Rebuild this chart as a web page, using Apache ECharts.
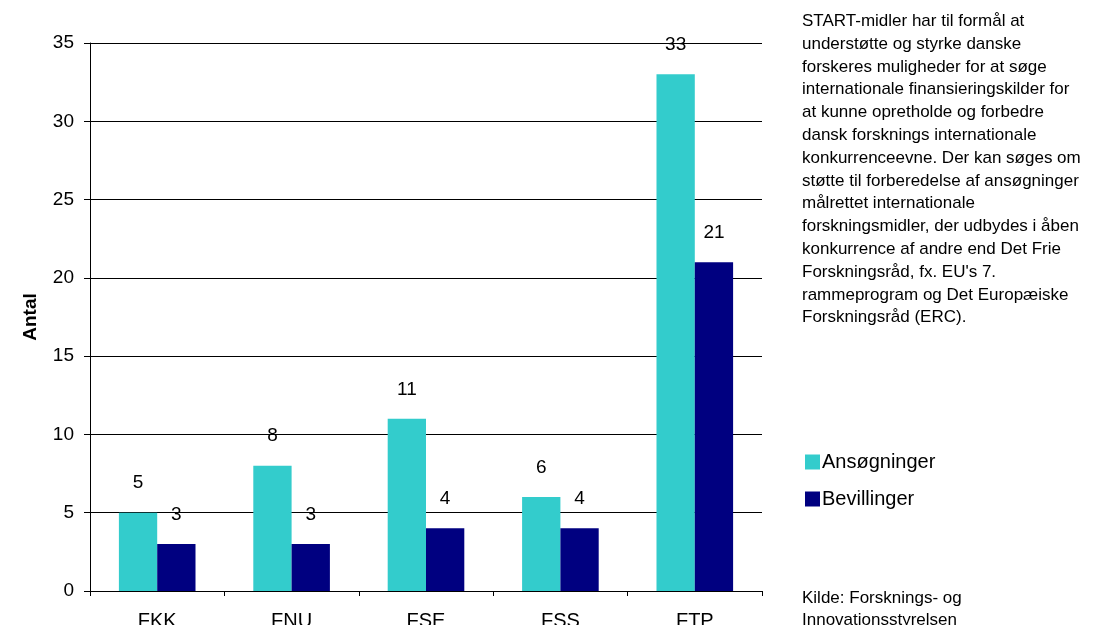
<!DOCTYPE html>
<html>
<head>
<meta charset="utf-8">
<script src="https://cdn.jsdelivr.net/npm/echarts@6/dist/echarts.min.js"></script>
<style>
  body { margin: 0; background: #fff; }
  #chart { width: 1107px; height: 625px; }
</style>
</head>
<body>
<div id="chart"></div>
<script>
// data
var categories = ["FKK", "FNU", "FSE", "FSS", "FTP"];
var ansoegninger = [5, 8, 11, 6, 33];
var bevillinger = [3, 3, 4, 4, 21];
var seriesNames = ["Ansøgninger", "Bevillinger"];

var noteText = "START-midler har til formål at\nunderstøtte og styrke danske\nforskeres muligheder for at søge\ninternationale finansieringskilder for\nat kunne opretholde og forbedre\ndansk forsknings internationale\nkonkurrenceevne. Der kan søges om\nstøtte til forberedelse af ansøgninger\nmålrettet internationale\nforskningsmidler, der udbydes i åben\nkonkurrence af andre end Det Frie\nForskningsråd, fx. EU's 7.\nrammeprogram og Det Europæiske\nForskningsråd (ERC).";
var sourceText = "Kilde: Forsknings- og\nInnovationsstyrelsen";

var font = "Liberation Sans, Arial, sans-serif";
var myChart = echarts.init(document.getElementById("chart"));

var labelStyle = {
  show: true,
  position: "top",
  distance: 20,
  color: "#000",
  fontSize: 19,
  fontFamily: font
};

myChart.setOption({
  animation: false,
  backgroundColor: "#fff",
  grid: { left: 90, right: 345, top: 43, bottom: 34, outerBoundsMode: "none" },
  legend: {
    orient: "vertical",
    left: 800,
    top: 447,
    itemWidth: 15,
    itemHeight: 15,
    itemGap: 17,
    icon: "rect",
    textStyle: { fontSize: 20, color: "#000", fontFamily: font, padding: [0, 0, 0, -3] },
    data: seriesNames
  },
  xAxis: {
    type: "category",
    data: categories,
    axisLine: { lineStyle: { color: "#000", width: 1 } },
    axisTick: { show: true, length: 5, lineStyle: { color: "#000" } },
    axisLabel: { color: "#000", fontSize: 20, fontFamily: font, margin: 20 }
  },
  yAxis: {
    type: "value",
    min: 0,
    max: 35,
    interval: 5,
    name: "Antal",
    nameLocation: "middle",
    nameGap: 50,
    nameRotate: 90,
    nameTextStyle: { fontSize: 19, fontWeight: "bold", color: "#000", fontFamily: font },
    axisLine: { show: true, lineStyle: { color: "#000", width: 1 } },
    axisTick: { show: true, length: 6, lineStyle: { color: "#000" } },
    axisLabel: { color: "#000", fontSize: 19, fontFamily: font, margin: 16 },
    splitLine: { show: true, lineStyle: { color: "#000", width: 1 } }
  },
  series: [
    {
      name: seriesNames[0],
      type: "bar",
      data: ansoegninger,
      barGap: "0%",
      barCategoryGap: "43%",
      itemStyle: { color: "#33CCCC" },
      label: labelStyle
    },
    {
      name: seriesNames[1],
      type: "bar",
      data: bevillinger,
      itemStyle: { color: "#000080" },
      label: labelStyle
    }
  ],
  graphic: [
    {
      type: "text",
      left: 802,
      top: 10,
      style: {
        text: noteText,
        fill: "#000",
        font: "17px " + font,
        lineHeight: 22.8
      }
    },
    {
      type: "text",
      left: 802,
      top: 587,
      style: {
        text: sourceText,
        fill: "#000",
        font: "17px " + font,
        lineHeight: 22
      }
    }
  ]
});
</script>
</body>
</html>
